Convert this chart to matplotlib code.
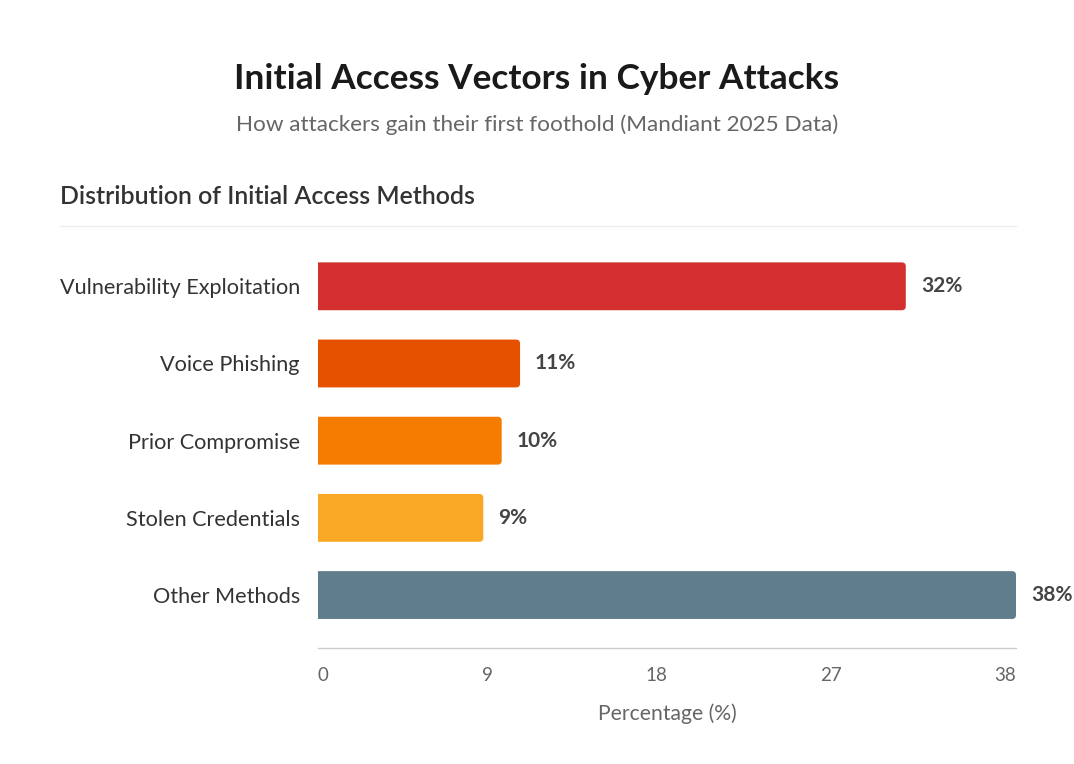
import matplotlib
matplotlib.use("Agg")
import matplotlib.pyplot as plt
from matplotlib.patches import FancyBboxPatch
from matplotlib.lines import Line2D

plt.rcParams['font.family'] = ['Lato', 'DejaVu Sans']

# Data
methods = ["Vulnerability Exploitation", "Voice Phishing", "Prior Compromise",
           "Stolen Credentials", "Other Methods"]
shares = [32, 11, 10, 9, 38]
bar_colors = ["#d32f2f", "#e65100", "#f57c00", "#f9a825", "#607d8b"]
tick_values = [0, 9, 18, 27, 38]

W, H = 1074, 764
fig = plt.figure(figsize=(W / 100, H / 100), dpi=100)
fig.patch.set_facecolor("white")

# axes placed in pixel terms of the reference
x0, x1, y_top, y_bot = 318, 1016, 240, 648
ax = fig.add_axes([x0 / W, 1 - y_bot / H, (x1 - x0) / W, (y_bot - y_top) / H])

ypos = list(range(len(methods)))
bars = ax.barh(ypos, shares, height=0.62, color=bar_colors)
ax.set_xlim(0, max(tick_values))
ax.set_ylim(len(methods) - 1 + 0.686, -0.6)

# rounded right ends only: the box starts left of the axes and gets clipped at 0
px_x = (x1 - x0) / max(tick_values)
px_y = (y_bot - y_top) / (len(methods) - 1 + 0.686 + 0.6)
r = 4
for b, c in zip(bars, bar_colors):
    b.set_visible(False)
    bx, by, bw, bh = b.get_x(), b.get_y(), b.get_width(), b.get_height()
    ax.add_patch(FancyBboxPatch((bx - 1, by), bw + 1, bh,
                                boxstyle=f"round,pad=0,rounding_size={r / px_x}",
                                mutation_aspect=(px_x / px_y),
                                facecolor=c, edgecolor="none"))
    ax.text(bw + 15 / px_x, by + bh / 2, f"{bw:g}%", va="center", ha="left",
            fontsize=15, fontweight="bold", color="#444444", clip_on=False)

ax.set_yticks(ypos)
ax.set_yticklabels(methods, fontsize=15.6, color="#333333")
ax.tick_params(axis="y", length=0, pad=13)
ax.tick_params(axis="x", length=0, pad=14, labelsize=13.5, labelcolor="#666666")
for s in ["top", "right", "left"]:
    ax.spines[s].set_visible(False)
ax.spines["bottom"].set_color("#cccccc")
ax.spines["bottom"].set_linewidth(1)
ax.set_xlabel("Percentage (%)", fontsize=15.2, color="#666666", labelpad=14)

# tick labels spread like a space-between row
ax.set_xticks(tick_values)
ax.set_xticklabels([str(v) for v in tick_values])
fig.canvas.draw()
rend = fig.canvas.get_renderer()
widths = [t.get_window_extent(rend).width for t in ax.get_xticklabels()]
gap = ((x1 - x0) - sum(widths)) / (len(widths) - 1)
pos, cur = [], x0
for w in widths:
    pos.append((cur + w / 2 - x0) / px_x)
    cur += w + gap
ax.set_xticks(pos)
ax.set_xticklabels([str(v) for v in tick_values])

# header texts
fig.text(0.5, 1 - 79 / H, "Initial Access Vectors in Cyber Attacks", ha="center", va="center",
         fontsize=25.4, fontweight="bold", color="#1a1a1a")
fig.text(0.5, 1 - 125 / H, "How attackers gain their first foothold (Mandiant 2025 Data)",
         ha="center", va="center", fontsize=16.2, color="#666666")
fig.text(60 / W, 1 - 197 / H, "Distribution of Initial Access Methods", ha="left", va="center",
         fontsize=17.9, fontweight="semibold", color="#333333")
fig.add_artist(Line2D([60 / W, 1016 / W], [1 - 226 / H, 1 - 226 / H],
                      transform=fig.transFigure, color="#eeeeee", linewidth=1))

fig.savefig("out.png", dpi=100)
